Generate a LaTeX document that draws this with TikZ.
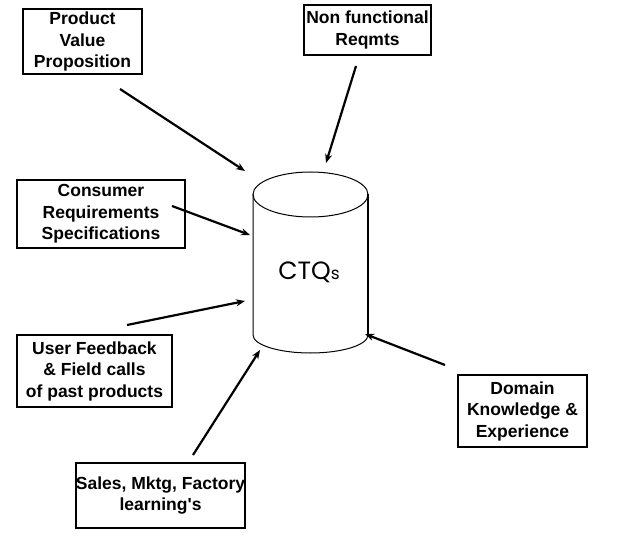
\documentclass[tikz,border=0pt]{standalone}
\usepackage{fontspec}
\setmainfont{Liberation Sans}[Ligatures=TeXOff]
\newfontfamily\ctqfont{Poppins}
\usetikzlibrary{arrows.meta}
\begin{document}
\begin{tikzpicture}[x=1pt,y=-1pt,
  src/.style={draw,line width=1.3pt,align=center,inner sep=0pt,
    font=\fontsize{17.5}{21.5}\selectfont\bfseries},
  feed/.style={line width=2.2pt,-{Stealth[length=9pt,width=7pt]}},
  cyl/.style={line width=1pt}]
\useasboundingbox (0,0) rectangle (637,540);
\fill[white] (0,0) rectangle (637,540);
% boxes
\node[src,minimum width=119pt,minimum height=65pt] (pvp) at (82.5,41.5) {Product\\Value\\Proposition};
\node[src,minimum width=127pt,minimum height=50pt] (nfr) at (367.5,30) {Non functional\\Reqmts};
\node[src,minimum width=168pt,minimum height=68pt] (crs) at (101,214) {Consumer\\Requirements\\Specifications};
\node[src,minimum width=155pt,minimum height=72pt] (ufb) at (94.5,371) {User Feedback\\\& Field calls\\of past products};
\node[src,minimum width=169pt,minimum height=65pt] (smf) at (160.5,495.5) {Sales, Mktg, Factory\\learning's};
\node[src,minimum width=129pt,minimum height=72pt] (dke) at (522.5,411) {Domain\\Knowledge \&\\Experience};
% cylinder
\draw[cyl] (310.5,194.5) ellipse [x radius=57.5, y radius=22.5];
\draw[cyl] (253,194.5) -- (253,335) arc[start angle=180,end angle=0,x radius=57.5,y radius=18];
\draw[line width=2pt] (368,194.5) -- (368,335);
\node (ctq) at (309,272) {\ctqfont\fontsize{25}{25}\selectfont CTQ{\fontsize{17}{17}\selectfont s}};
% arrow ends
\coordinate (a1s) at (120,89);  \coordinate (a1e) at (245,171);
\coordinate (a2s) at (356,66);  \coordinate (a2e) at (326,163);
\coordinate (a3s) at (172,206); \coordinate (a3e) at (250,235);
\coordinate (a4s) at (127,325); \coordinate (a4e) at (245,301);
\coordinate (a5s) at (193,455); \coordinate (a5e) at (260,350);
\coordinate (a6s) at (445,365); \coordinate (a6e) at (365,334);
\draw[feed] (a1s) -- (a1e);
\draw[feed] (a2s) -- (a2e);
\draw[feed] (a3s) -- (a3e);
\draw[feed] (a4s) -- (a4e);
\draw[feed] (a5s) -- (a5e);
\draw[feed] (a6s) -- (a6e);
\end{tikzpicture}
\end{document}
